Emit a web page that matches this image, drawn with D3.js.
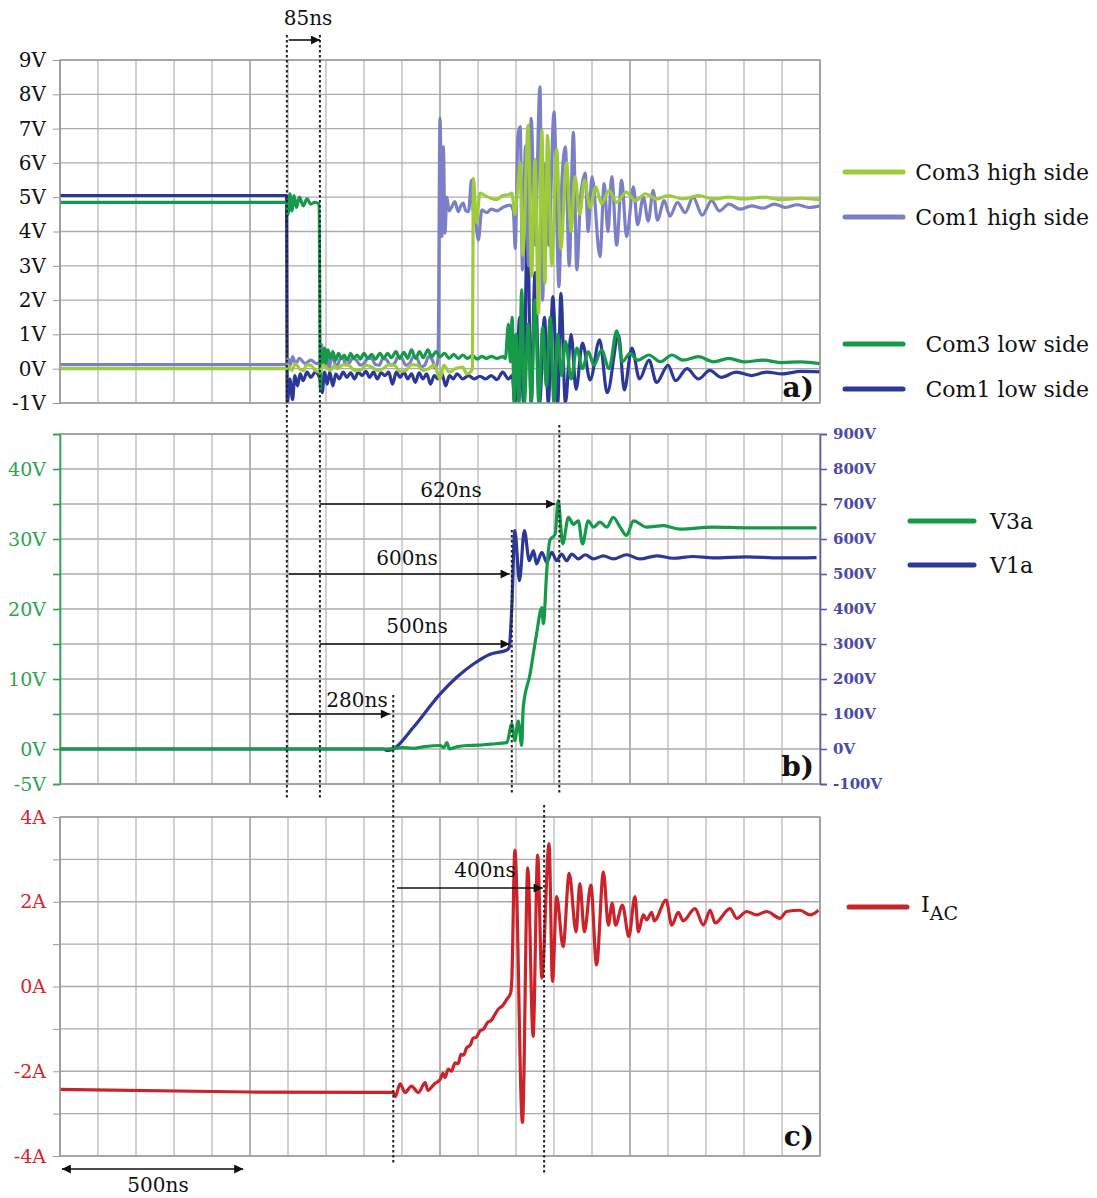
<!DOCTYPE html>
<html>
<head>
<meta charset="utf-8">
<script src="https://cdn.jsdelivr.net/npm/d3@7"></script>
<style>
  body { margin: 0; background: #fff; }
  svg text { font-family: "DejaVu Serif", serif; }
</style>
</head>
<body>
<svg id="chart" width="1097" height="1198"></svg>
<script>
// ---------- data : time in ns, values in V / A ----------
var com1High = [[0,0.12],[596,0.12],[600,0.3],[606,0.1],[612,0.35],[620,0.15],[630,0.3],[645,0.15],[660,0.25],[675,0.15],[684,0.2],[688,0.7],[694,0.1],[700,0.55],[708,0.0],[716,0.4],[724,0.15],[730,0.1],[738,0.3],[745,0.3],[752,0.12],[760,0.15],[770,0.3],[780,0.25],[790,0.1],[800,0.15],[810,0.3],[820,0.3],[830,0.12],[840,0.1],[850,0.3],[860,0.25],[870,0.1],[880,0.15],[890,0.35],[900,0.3],[910,0.1],[920,0.15],[930,0.35],[940,0.3],[950,0.05],[960,0.1],[970,0.35],[980,0.25],[988,0.0],[995,0.3],[1000,7.3],[1003,5.5],[1005,3.85],[1009,6.47],[1013,3.95],[1018,5.0],[1024,4.6],[1031,4.72],[1039,4.87],[1048,4.58],[1055,4.75],[1061,4.83],[1068,4.6],[1075,4.58],[1083,5.5],[1088,4.5],[1092,4.43],[1101,3.75],[1110,4.63],[1123,4.55],[1135,4.65],[1150,4.6],[1165,4.7],[1184,4.77],[1193,4.6],[1198,3.5],[1205,6.8],[1211,7.06],[1217,2.88],[1225,6.5],[1233,3.0],[1240,7.3],[1250,3.6],[1263,8.22],[1270,2.0],[1278,6.0],[1286,3.6],[1300,7.49],[1313,2.39],[1321,5.5],[1330,6.47],[1340,3.0],[1351,6.9],[1360,2.88],[1370,5.0],[1382,5.7],[1390,4.0],[1400,5.6],[1421,3.27],[1432,5.4],[1442,4.0],[1452,5.6],[1465,3.6],[1478,5.5],[1491,3.85],[1509,5.3],[1520,4.2],[1535,5.0],[1548,4.3],[1561,5.2],[1572,4.33],[1590,4.9],[1605,4.45],[1625,4.85],[1645,4.55],[1666,5.0],[1690,4.48],[1715,4.9],[1735,4.6],[1760,4.8],[1790,4.65],[1820,4.75],[1850,4.68],[1880,4.8],[1910,4.7],[1940,4.78],[1970,4.7],[2000,4.75]];

var com3High = [[0,0],[596,0],[600,0.1],[610,-0.05],[620,0.15],[630,0.0],[640,-0.05],[650,0.12],[660,0.1],[672,-0.05],[684,-0.1],[692,0.1],[700,0.05],[712,-0.05],[722,0.1],[730,0.0],[745,0.12],[760,0.1],[775,-0.05],[790,-0.05],[805,0.1],[820,0.05],[835,-0.05],[850,0.0],[865,0.12],[880,0.1],[895,-0.08],[910,-0.05],[925,0.12],[940,0.1],[955,-0.05],[970,0.0],[985,0.12],[1000,-0.3],[1010,0.1],[1025,-0.1],[1040,0.0],[1060,0.05],[1070,-0.15],[1080,-0.1],[1085,0.0],[1088,5.55],[1096,4.25],[1105,5.12],[1123,5.02],[1149,4.93],[1165,5.05],[1180,5.07],[1189,5.12],[1197,4.5],[1204,5.2],[1211,6.0],[1218,3.3],[1232,7.1],[1241,2.7],[1250,6.1],[1259,1.6],[1268,6.95],[1276,2.5],[1283,6.8],[1294,3.0],[1307,6.4],[1318,3.5],[1333,6.0],[1345,4.0],[1355,5.6],[1368,4.5],[1380,5.5],[1395,4.7],[1410,5.3],[1425,4.8],[1445,5.2],[1465,4.85],[1490,5.15],[1515,4.9],[1540,5.1],[1570,4.95],[1600,5.05],[1640,4.95],[1680,5.05],[1720,4.95],[1760,5.0],[1800,4.95],[1850,5.0],[1900,4.93],[1950,4.97],[2000,4.92]];

var com1Low = [[0,5.05],[596,5.05],[598,-1.0],[605,-0.3],[612,-0.9],[618,-0.2],[625,-0.5],[632,-0.15],[640,-0.35],[650,-0.1],[660,-0.25],[672,-0.1],[684,-0.3],[690,-0.7],[696,-0.1],[703,-0.45],[710,-0.1],[718,-0.5],[726,-0.15],[735,-0.3],[745,-0.1],[755,-0.25],[765,-0.12],[775,-0.3],[785,-0.1],[795,-0.2],[805,-0.08],[815,-0.25],[825,-0.1],[835,-0.3],[845,-0.12],[855,-0.2],[865,-0.1],[875,-0.45],[885,-0.1],[895,-0.25],[905,-0.1],[915,-0.3],[925,-0.15],[935,-0.4],[945,-0.12],[955,-0.3],[965,-0.15],[975,-0.45],[985,-0.2],[995,-0.3],[1005,-0.15],[1015,-0.5],[1025,-0.2],[1035,-0.3],[1045,-0.15],[1060,-0.3],[1075,-0.2],[1090,-0.3],[1105,-0.22],[1120,-0.3],[1135,-0.2],[1150,-0.32],[1165,-0.1],[1180,-0.3],[1190,-0.2],[1197,-1.0],[1210,1.5],[1220,-1.0],[1230,4.3],[1240,-1.0],[1250,2.8],[1262,-1.0],[1275,1.5],[1285,-1.0],[1297,2.1],[1310,-1.0],[1318,2.2],[1330,-1.0],[1345,1.0],[1358,-0.6],[1375,0.75],[1395,-0.33],[1420,0.84],[1440,-0.7],[1470,0.98],[1485,-0.62],[1505,0.6],[1525,-0.3],[1550,0.25],[1570,-0.4],[1600,0.1],[1620,-0.35],[1650,0.0],[1680,-0.3],[1710,-0.05],[1740,-0.25],[1780,-0.1],[1820,-0.2],[1860,-0.1],[1900,-0.15],[1950,-0.08],[2000,-0.09]];

var com3Low = [[0,4.85],[596,4.85],[600,4.5],[605,5.1],[610,4.6],[616,5.05],[622,4.7],[630,5.0],[640,4.75],[650,4.95],[660,4.8],[670,4.85],[682,4.8],[685,-0.6],[688,0.55],[692,0.2],[696,0.6],[700,0.15],[705,0.55],[712,0.3],[718,0.5],[725,0.25],[733,0.45],[740,0.3],[748,0.4],[756,0.25],[765,0.45],[773,0.3],[782,0.4],[790,0.28],[800,0.45],[810,0.3],[820,0.42],[830,0.28],[842,0.45],[852,0.3],[862,0.45],[872,0.32],[884,0.5],[894,0.3],[905,0.48],[915,0.3],[925,0.55],[936,0.3],[946,0.5],[956,0.32],[968,0.55],[978,0.35],[990,0.5],[1000,0.35],[1012,0.45],[1024,0.3],[1036,0.42],[1048,0.3],[1060,0.4],[1072,0.3],[1085,0.38],[1098,0.28],[1110,0.36],[1122,0.3],[1135,0.36],[1150,0.3],[1165,0.35],[1172,0.3],[1180,1.3],[1185,0.2],[1190,1.5],[1195,-1.0],[1200,1.0],[1208,-1.0],[1215,2.3],[1222,-1.0],[1232,1.3],[1240,-1.0],[1250,2.0],[1260,-1.0],[1270,1.2],[1280,-0.5],[1290,1.5],[1300,-1.0],[1310,1.0],[1320,-0.2],[1330,0.8],[1345,-0.3],[1360,0.6],[1375,0.0],[1390,0.5],[1405,0.1],[1425,0.55],[1445,0.0],[1465,1.1],[1480,0.2],[1500,0.45],[1520,0.25],[1550,0.4],[1580,0.2],[1610,0.4],[1640,0.25],[1680,0.35],[1720,0.2],[1760,0.3],[1800,0.2],[1850,0.25],[1900,0.18],[1950,0.2],[2000,0.15]];

// panel b
var v3a = [[0,0],[860,0],[877,0.05],[900,0.2],[930,0.1],[960,0.35],[1000,0.5],[1010,0.2],[1018,0.9],[1025,0.0],[1044,0.3],[1070,0.5],[1100,0.55],[1132,0.7],[1176,0.9],[1189,3.6],[1197,1.2],[1206,4.0],[1215,0.5],[1219,5.9],[1237,10.7],[1254,16.4],[1268,20.2],[1272,17.9],[1281,25.5],[1289,29.8],[1303,30.7],[1311,35.5],[1323,29.3],[1338,33.1],[1351,32.1],[1364,32.6],[1375,29.3],[1390,32.6],[1404,31.7],[1421,32.4],[1439,31.7],[1456,33.1],[1474,31.7],[1491,30.5],[1509,32.6],[1544,31.7],[1588,31.9],[1632,31.4],[1718,31.7],[1807,31.6],[1991,31.6]];
var v1a = [[0,0],[850,0],[862,-4],[877,0],[930,62],[1000,157],[1044,205],[1088,243],[1132,271],[1176,283],[1182,290],[1189,405],[1197,624],[1209,481],[1222,624],[1235,538],[1246,567],[1254,529],[1268,562],[1281,533],[1294,562],[1307,538],[1320,557],[1333,538],[1347,557],[1364,543],[1382,555],[1404,543],[1430,552],[1456,543],[1491,555],[1526,543],[1570,552],[1614,545],[1666,550],[1718,546],[1807,549],[1895,546],[1991,547]];

// panel c
var iac = [[0,-2.43],[500,-2.49],[842,-2.5],[877,-2.5],[882,-2.6],[895,-2.3],[908,-2.5],[925,-2.35],[943,-2.5],[961,-2.27],[968,-2.45],[985,-2.3],[1000,-2.2],[1008,-2.05],[1013,-2.15],[1022,-1.95],[1030,-2.0],[1040,-1.8],[1048,-1.82],[1055,-1.6],[1062,-1.62],[1070,-1.45],[1080,-1.38],[1087,-1.22],[1095,-1.2],[1105,-1.05],[1115,-1.0],[1125,-0.85],[1135,-0.8],[1145,-0.65],[1155,-0.52],[1165,-0.45],[1176,-0.3],[1186,-0.15],[1189,0.16],[1197,3.22],[1217,-3.21],[1231,2.8],[1245,-1.18],[1257,3.1],[1268,0.2],[1287,3.37],[1296,0.12],[1307,2.12],[1324,0.94],[1340,2.67],[1358,1.29],[1368,2.43],[1380,1.29],[1397,2.39],[1412,0.51],[1430,2.7],[1443,1.45],[1453,1.96],[1462,1.45],[1480,1.92],[1497,1.18],[1513,2.12],[1522,1.29],[1535,1.69],[1544,1.57],[1557,1.75],[1564,1.55],[1595,2.04],[1610,1.45],[1627,1.75],[1640,1.55],[1671,1.84],[1693,1.45],[1711,1.8],[1724,1.5],[1763,1.84],[1781,1.61],[1807,1.77],[1833,1.69],[1860,1.77],[1895,1.61],[1912,1.77],[1947,1.8],[1974,1.69],[1996,1.8]];

var tickA = [-1,0,1,2,3,4,5,6,7,8,9];
var tickBLeft = [-5,0,10,20,30,40];
var tickBRight = [-100,0,100,200,300,400,500,600,700,800,900];
var tickC = [-4,-2,0,2,4];

var namesA = ["Com3 high side","Com1 high side","Com3 low side","Com1 low side"];
var colorsA = ["#9dcb3b","#7b80c6","#17994a","#2b3897"];
var namesB = ["V3a","V1a"];
var colorsB = ["#17994a","#2b3897"];
var red = "#cc2229";

// ---------- scales ----------
var svg = d3.select("#chart");
var L = 60, R = 820;
var x = d3.scaleLinear().domain([0,2000]).range([L,R]);
var ya = d3.scaleLinear().domain([-1,9]).range([403,60]);
var yb = d3.scaleLinear().domain([-5,45]).range([784,434]);
var ybR = d3.scaleLinear().domain([-100,900]).range([784,434]);
var yc = d3.scaleLinear().domain([-4,4]).range([1156,817]);
var curve = d3.curveMonotoneX;

// grid for a panel
function grid(y, step, lo, hi) {
  var g = svg.append("g");
  var top = y(hi), bot = y(lo);
  g.selectAll("line.v").data(d3.range(0,2001,100)).join("line")
    .attr("x1", d => x(d)).attr("x2", d => x(d))
    .attr("y1", top).attr("y2", bot)
    .attr("stroke", d => d % 500 == 0 ? "#8a8a8a" : "#b8b8b8")
    .attr("stroke-width", 1.3);
  g.selectAll("line.h").data(d3.range(lo, hi + 0.001, step)).join("line")
    .attr("x1", L).attr("x2", R)
    .attr("y1", d => y(d)).attr("y2", d => y(d))
    .attr("stroke", "#ababab").attr("stroke-width", 1.3);
  return g;
}

function clip(id, y0, y1) {
  svg.append("clipPath").attr("id", id).append("rect")
    .attr("x", L).attr("y", y0).attr("width", R - L).attr("height", y1 - y0);
}

// arrow marker
var defs = svg.append("defs");
defs.append("marker").attr("id","arr").attr("viewBox","0 0 10 10")
  .attr("refX",10).attr("refY",5).attr("markerWidth",11).attr("markerHeight",9)
  .attr("markerUnits","userSpaceOnUse").attr("orient","auto-start-reverse")
  .append("path").attr("d","M0,0L10,5L0,10z").attr("fill","#111");

function styleTicks(ax, col, size, weight) {
  ax.selectAll("text").style("font-size", size + "px").style("font-family","DejaVu Serif")
    .style("fill", col).style("font-weight", weight || "normal");
}

// ---------- panel a ----------
grid(ya, 1, -1, 9);
var axA = svg.append("g").attr("transform","translate(" + L + ",0)")
  .call(d3.axisLeft(ya).tickValues(tickA).tickFormat(d => d + "V").tickSize(7).tickPadding(7));
axA.select(".domain").attr("stroke","#9a9a9a");
axA.selectAll(".tick line").attr("stroke","#9a9a9a");
styleTicks(axA, "#111", 20);
clip("clipA", 60, 403);

var lineA = d3.line().curve(curve).x(d => x(d[0])).y(d => ya(d[1]));
var seriesA = [com1Low, com1High, com3Low, com3High];
var seriesColA = [colorsA[3], colorsA[1], colorsA[2], colorsA[0]];
svg.append("g").attr("clip-path","url(#clipA)")
  .selectAll("path").data(seriesA).join("path")
  .attr("d", lineA).attr("fill","none")
  .attr("stroke", (d, i) => seriesColA[i]).attr("stroke-width", 3.2)
  .attr("stroke-linejoin","round");
svg.append("rect").attr("x",L).attr("y",60).attr("width",R-L).attr("height",343)
  .attr("fill","none").attr("stroke","#9a9a9a").attr("stroke-width",1.3);

// ---------- panel b ----------
grid(yb, 5, -5, 45);
var axBl = svg.append("g").attr("transform","translate(" + L + ",0)")
  .call(d3.axisLeft(yb).tickValues(d3.range(-5,46,5)).tickFormat(d => tickBLeft.indexOf(d) >= 0 ? d + "V" : "").tickSize(7).tickPadding(7));
axBl.selectAll(".domain,.tick line").attr("stroke","#2ea44f").attr("stroke-width",1.6);
styleTicks(axBl, "#2ea44f", 19);
var axBr = svg.append("g").attr("transform","translate(" + R + ",0)")
  .call(d3.axisRight(ybR).tickValues(tickBRight).tickFormat(d => d + "V").tickSize(7).tickPadding(6));
axBr.selectAll(".domain,.tick line").attr("stroke","#5a5ab4").attr("stroke-width",1.6);
styleTicks(axBr, "#4a4aa8", 15, "bold");
svg.append("line").attr("x1",L).attr("x2",R).attr("y1",434).attr("y2",434).attr("stroke","#9a9a9a").attr("stroke-width",1.3);
svg.append("line").attr("x1",L).attr("x2",R).attr("y1",784).attr("y2",784).attr("stroke","#9a9a9a").attr("stroke-width",1.3);
clip("clipB", 434, 784);
var gB = svg.append("g").attr("clip-path","url(#clipB)");
gB.append("path").datum(v1a).attr("fill","none").attr("stroke",colorsB[1]).attr("stroke-width",3.2)
  .attr("stroke-linejoin","round")
  .attr("d", d3.line().curve(curve).x(d => x(d[0])).y(d => ybR(d[1])));
gB.append("path").datum(v3a).attr("fill","none").attr("stroke",colorsB[0]).attr("stroke-width",3.2)
  .attr("stroke-linejoin","round")
  .attr("d", d3.line().curve(curve).x(d => x(d[0])).y(d => yb(d[1])));

// ---------- panel c ----------
grid(yc, 1, -4, 4);
var axC = svg.append("g").attr("transform","translate(" + L + ",0)")
  .call(d3.axisLeft(yc).tickValues(d3.range(-4,5,1)).tickFormat(d => tickC.indexOf(d) >= 0 ? d + "A" : "").tickSize(7).tickPadding(7));
axC.select(".domain").attr("stroke","#9a9a9a");
axC.selectAll(".tick line").attr("stroke","#9a9a9a");
styleTicks(axC, "#d8262c", 19);
clip("clipC", 817, 1156);
svg.append("g").attr("clip-path","url(#clipC)").append("path").datum(iac)
  .attr("fill","none").attr("stroke",red).attr("stroke-width",3.2)
  .attr("stroke-linejoin","round")
  .attr("d", d3.line().curve(curve).x(d => x(d[0])).y(d => yc(d[1])));
svg.append("rect").attr("x",L).attr("y",817).attr("width",R-L).attr("height",339)
  .attr("fill","none").attr("stroke","#9a9a9a").attr("stroke-width",1.3);

// ---------- cursors & timing arrows ----------
var cursors = [[597,35,798],[684,35,798],[877,695,1163],[1189,530,795],[1314,425,795],[1274,805,1173]];
svg.append("g").selectAll("line").data(cursors).join("line")
  .attr("x1", d => x(d[0])).attr("x2", d => x(d[0]))
  .attr("y1", d => d[1]).attr("y2", d => d[2])
  .attr("stroke","#222").attr("stroke-width",2).attr("stroke-dasharray","2.5,2.5");

function arrow(t0, t1, y, label, lx, ly, both) {
  svg.append("line").attr("x1", x(t0)).attr("x2", x(t1)).attr("y1", y).attr("y2", y)
    .attr("stroke","#111").attr("stroke-width",1.6)
    .attr("marker-end","url(#arr)")
    .attr("marker-start", both ? "url(#arr)" : null);
  svg.append("text").attr("x", lx).attr("y", ly).attr("text-anchor","middle")
    .attr("font-size",20).attr("fill","#111").text(label);
}
arrow(602, 684, 40, "85ns", 308, 25);
arrow(684, 1303, yb(35), "620ns", 451, 497);
arrow(602, 1183, yb(25), "600ns", 407, 565);
arrow(684, 1183, yb(15), "500ns", 417, 633);
arrow(602, 868, yb(5), "280ns", 357, 707);
arrow(887, 1270, 888, "400ns", 485, 877);
arrow(5, 482, 1169, "500ns", 158, 1192, true);

// panel letters
[["a)",397],["b)",776],["c)",1146]].forEach(function(p) {
  svg.append("text").attr("x",814).attr("y",p[1]).attr("text-anchor","end")
    .attr("font-size",28).attr("font-weight","bold").attr("fill","#111").text(p[0]);
});

// ---------- legends ----------
var legA = [172,217,344,389];
namesA.forEach(function(n, i) {
  svg.append("line").attr("x1",845).attr("x2",903).attr("y1",legA[i]).attr("y2",legA[i])
    .attr("stroke",colorsA[i]).attr("stroke-width",5).attr("stroke-linecap","round");
  svg.append("text").attr("x",1089).attr("y",legA[i]+8).attr("text-anchor","end")
    .attr("font-size",22).attr("fill","#111").text(n);
});
var legB = [521,565];
namesB.forEach(function(n, i) {
  svg.append("line").attr("x1",910).attr("x2",974).attr("y1",legB[i]).attr("y2",legB[i])
    .attr("stroke",colorsB[i]).attr("stroke-width",5).attr("stroke-linecap","round");
  svg.append("text").attr("x",990).attr("y",legB[i]+8).attr("font-size",22).attr("fill","#111").text(n);
});
svg.append("line").attr("x1",849).attr("x2",907).attr("y1",907).attr("y2",907)
  .attr("stroke",red).attr("stroke-width",5).attr("stroke-linecap","round");
var ti = svg.append("text").attr("x",921).attr("y",912).attr("font-size",22).attr("fill","#111");
ti.append("tspan").text("I");
ti.append("tspan").attr("dy",8).attr("font-size",19).text("AC");
</script>
</body>
</html>
